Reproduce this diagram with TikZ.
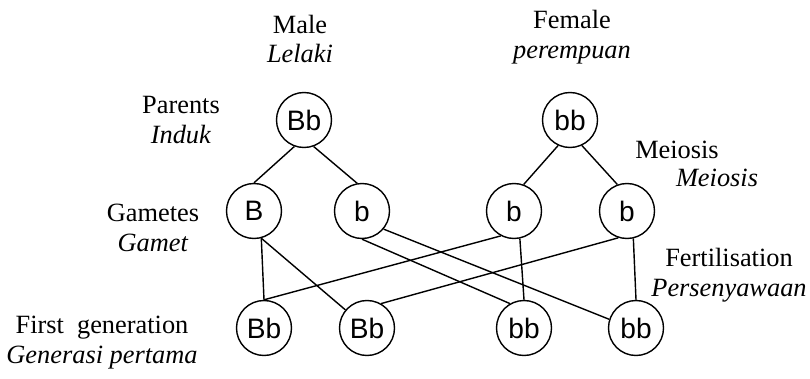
\documentclass[tikz,border=0pt]{standalone}
\usepackage{fontspec}
\setmainfont{Liberation Serif}
\setsansfont{Liberation Sans}

\begin{document}
\begin{tikzpicture}[line width=0.8pt,
  allele/.style={circle,draw,minimum size=1.1cm,inner sep=0pt,font=\sffamily\fontsize{16}{18}\selectfont},
  lab/.style={align=center,font=\fontsize{15}{17}\selectfont}]
  \useasboundingbox (0,0) rectangle (16.2,7.56);
  % Parents, gametes and first generation
  \node[allele] (pm) at (6.08,5.16) {Bb};
  \node[allele] (pf) at (11.40,5.16) {bb};
  \node[allele] (gB) at (5.08,3.34) {B};
  \node[allele] (gb) at (7.24,3.34) {b};
  \node[allele] (gf1) at (10.28,3.34) {b};
  \node[allele] (gf2) at (12.54,3.34) {b};
  \node[allele] (f1) at (5.28,1.00) {Bb};
  \node[allele] (f2) at (7.34,1.00) {Bb};
  \node[allele] (f3) at (10.48,1.00) {bb};
  \node[allele] (f4) at (12.72,1.00) {bb};
  % Labels
  \node[lab] (male) at (6.00,6.78) {Male\\\textit{Lelaki}};
  \node[lab] (female) at (11.44,6.82) {Female\\\textit{perempuan}};
  \node[lab] (parents) at (3.62,5.16) {Parents\\\textit{Induk}};
  \node[lab] (meiosis) at (13.54,4.56) {Meiosis};
  \node[lab] (meiosisit) at (14.34,4.00) {\textit{Meiosis}};
  \node[lab] (gametes) at (3.06,3.00) {Gametes\\\textit{Gamet}};
  \node[lab] (fert) at (14.58,2.06) {Fertilisation\\\textit{Persenyawaan}};
  \node[lab] (firstgen) at (2.04,0.70) {First\hspace{0.5em}generation\\\textit{Generasi pertama}};
  % Meiosis
  \draw (pm.250) -- (gB.north);
  \draw (pm.290) -- (gb.100);
  \draw (pf.245) -- (gf1.70);
  \draw (pf.295) -- (gf2.110);
  % Fertilisation
  \draw (gB.-75) -- (f1.north);
  \draw (gB.-75) -- (f2.140);
  \draw (gb.south) -- (f3.120);
  \draw (gb.-40) -- (f4.162);
  \draw (gf1.242) -- (f1.north);
  \draw (gf1.-78) -- (f3.north);
  \draw (gf2.-108) -- (f2.60);
  \draw (gf2.-77) -- (f4.north);
\end{tikzpicture}
\end{document}
